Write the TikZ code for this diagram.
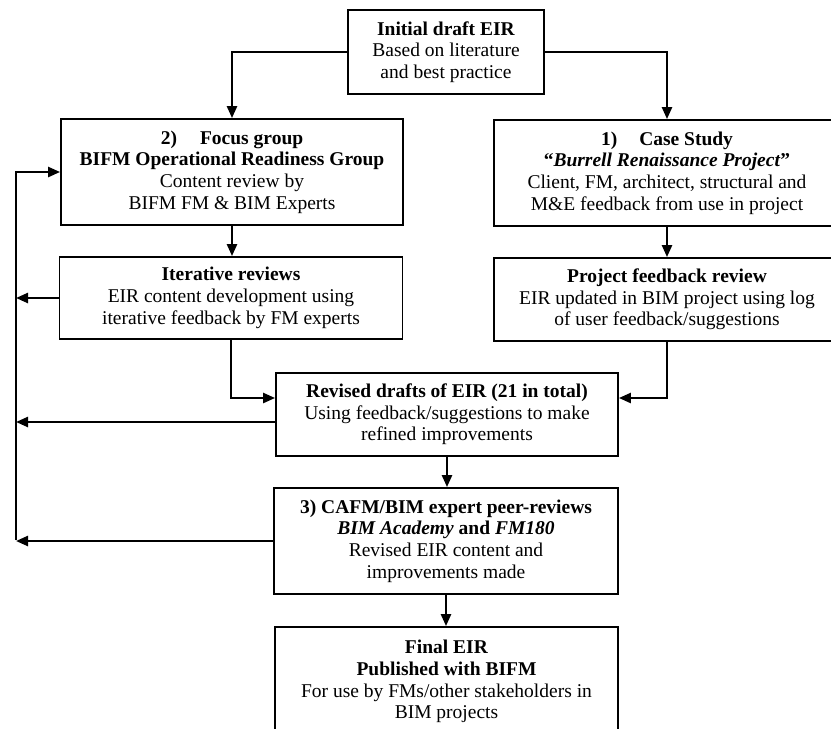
\documentclass[tikz,border=0pt]{standalone}
\usepackage{fontspec}
\setmainfont{Liberation Serif}
\usepackage{tikz}
\usetikzlibrary{arrows.meta}

\begin{document}
\begin{tikzpicture}[x=1pt, y=-1pt, box/.style = {shape=rectangle, draw, line width=1.8pt, align=center, inner sep=0pt, font=\fontsize{19.5}{21.7}\selectfont}, link/.style = {line width=2.4pt}, arr/.style = {link, -{Triangle[length=12pt,width=10pt]}}]
  \useasboundingbox (0,0) rectangle (831,729);
  \node[box, minimum width=196pt, minimum height=84pt] (init) at (446,52) {\textbf{Initial draft EIR}\\ Based on literature\\ and best practice};
  \node[box, minimum width=342pt, minimum height=106pt] (focus) at (232,172) {\textbf{2)\hspace{23pt}Focus group}\\ \textbf{BIFM Operational Readiness Group}\\ Content review by\\ BIFM FM \& BIM Experts};
  \node[box, minimum width=346pt, minimum height=106pt] (case) at (667,173) {\textbf{1)\hspace{22pt}Case Study}\\ \textbf{“\textit{Burrell Renaissance Project}”}\\ Client, FM, architect, structural and\\ M\&E feedback from use in project};
  \node[box, minimum width=343pt, minimum height=82pt] (iter) at (231,298) {\textbf{Iterative reviews}\\ EIR content development using\\ iterative feedback by FM experts};
  \node[box, minimum width=346pt, minimum height=83pt] (proj) at (667,299.5) {\textbf{Project feedback review}\\ EIR updated in BIM project using log\\ of user feedback/suggestions};
  \node[box, minimum width=342pt, minimum height=83pt] (rev) at (447,414.5) {\textbf{Revised drafts of EIR (21 in total)}\\ Using feedback/suggestions to make\\ refined improvements};
  \node[box, minimum width=344pt, minimum height=106pt] (cafm) at (446,541) {\textbf{3) CAFM/BIM expert peer-reviews}\\ \textbf{\textit{BIM Academy} and \textit{FM180}}\\ Revised EIR content and\\ improvements made};
  \node[box, minimum width=343pt, minimum height=109pt] (final) at (446.5,681.5) {\textbf{Final EIR}\\ \textbf{Published with BIFM}\\ For use by FMs/other stakeholders in\\ BIM projects};
  \coordinate (bus) at (16,540);
  \draw[arr] (init.west) -| (focus.north);
  \draw[arr] (init.east) -| (case.north);
  \draw[arr] (focus.south) -- (focus.south |- iter.north);
  \draw[arr] (case.south) -- (proj.north);
  \draw[arr] (iter.south) |- ([yshift=16.5pt]rev.west);
  \draw[arr] (proj.south) |- ([yshift=16.5pt]rev.east);
  \draw[arr] (rev.south) -- (rev.south |- cafm.north);
  \draw[arr] (cafm.south) -- (cafm.south |- final.north);
  \draw[arr] (iter.west) -- (iter.west -| bus);
  \draw[arr] ([yshift=-7.5pt]rev.west) -- ([yshift=-7.5pt]rev.west -| bus);
  \draw[arr] (cafm.west) -- (cafm.west -| bus);
  \draw[arr] (bus) |- (focus.west);
\end{tikzpicture}
\end{document}
